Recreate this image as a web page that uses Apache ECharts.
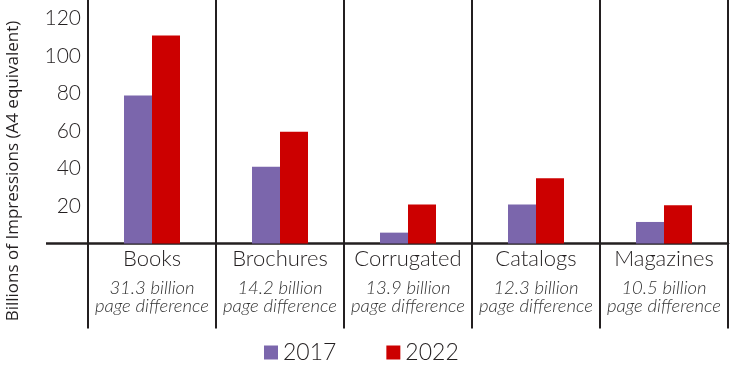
<!DOCTYPE html>
<html>
<head>
<meta charset="utf-8">
<script src="https://cdn.jsdelivr.net/npm/echarts@6/dist/echarts.min.js"></script>
<style>html,body{margin:0;padding:0;background:#fff}#c{width:730px;height:365px}</style>
</head>
<body>
<div id="c"></div>
<script>
var categories = ['Books', 'Brochures', 'Corrugated', 'Catalogs', 'Magazines'];
var notes = ['31.3 billion', '14.2 billion', '13.9 billion', '12.3 billion', '10.5 billion'];
var seriesNames = ['2017', '2022'];
var values2017 = [79, 41, 5.8, 20.8, 11.5];
var values2022 = [111, 59.7, 20.8, 34.8, 20.4];
var yTicks = [20, 40, 60, 80, 100, 120];
var yTitle = 'Billions of Impressions (A4 equivalent)';

var FONT = 'Lato';
var DARK = '#231f20';
var chart = echarts.init(document.getElementById('c'), null, {renderer: 'canvas'});
chart.setOption({
  animation: false,
  color: ['#7b66ac', '#cc0000'],
  grid: {left: 88, right: 2, top: 0, bottom: 121.5},
  legend: {
    data: seriesNames,
    left: 259,
    top: 336,
    icon: 'rect',
    itemWidth: 14,
    itemHeight: 14,
    itemGap: 50,
    textStyle: {fontFamily: FONT, fontSize: 23, fontWeight: 300, color: DARK}
  },
  xAxis: {
    type: 'category',
    data: categories,
    boundaryGap: true,
    axisLine: {lineStyle: {color: DARK, width: 2.5}},
    axisTick: {show: true, length: 85, lineStyle: {color: DARK, width: 2}},
    splitLine: {show: true, lineStyle: {color: DARK, width: 2}},
    axisLabel: {
      interval: 0,
      margin: 1,
      formatter: function (v, i) {
        return '{n|' + v + '}\n{g| }\n{s|' + notes[i] + '}\n{s|page difference}';
      },
      rich: {
        n: {fontFamily: FONT, fontSize: 22, fontWeight: 300, color: DARK, lineHeight: 28},
        g: {fontSize: 6, lineHeight: 6},
        s: {fontFamily: FONT, fontSize: 18.5, fontStyle: 'italic', fontWeight: 300, color: '#333', lineHeight: 18.5}
      }
    }
  },
  yAxis: {
    type: 'value',
    min: 0,
    max: 130,
    interval: 20,
    axisLine: {show: false},
    axisTick: {show: true, customValues: [0], length: 42, lineStyle: {color: DARK, width: 2.5}},
    axisLabel: {
      customValues: yTicks,
      margin: 7,
      fontFamily: FONT, fontSize: 21, fontWeight: 300, color: DARK
    },
    splitLine: {show: true, showMinLine: false, showMaxLine: false, lineStyle: {color: '#d0d0d0', width: 1.5}}
  },
  graphic: [{
    type: 'text',
    x: 13, y: 171,
    rotation: Math.PI / 2,
    style: {text: yTitle, fontFamily: 'Open Sans', fontSize: 17, fill: DARK, align: 'center', verticalAlign: 'middle'}
  }],
  series: [
    {name: seriesNames[0], type: 'bar', data: values2017, barWidth: 28, barGap: '0%'},
    {name: seriesNames[1], type: 'bar', data: values2022, barWidth: 28, barGap: '0%'}
  ]
});
</script>
</body>
</html>
